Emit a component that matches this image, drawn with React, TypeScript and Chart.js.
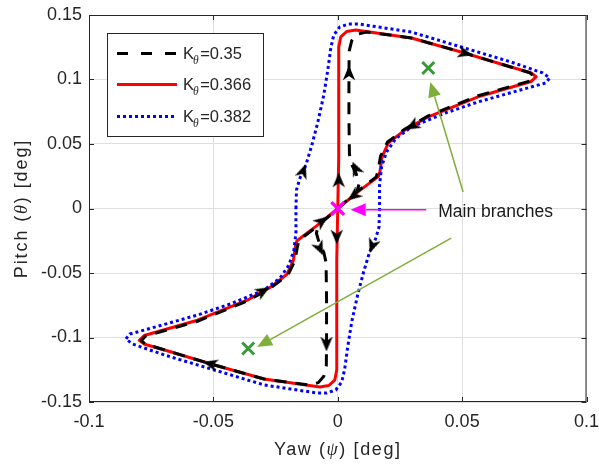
import React, { useEffect, useRef } from 'react';
import { Chart, registerables } from 'chart.js';

Chart.register(...registerables);

// ---------- tick labels ----------
const X_TICK_VALUES = [-0.1, -0.05, 0, 0.05, 0.1];
const X_TICK_LABELS = ['-0.1', '-0.05', '0', '0.05', '0.1'];
const Y_TICK_VALUES = [-0.15, -0.1, -0.05, 0, 0.05, 0.1, 0.15];
const Y_TICK_LABELS = ['-0.15', '-0.1', '-0.05', '0', '0.05', '0.1', '0.15'];

// ---------- series labels (K_theta values) ----------
const SERIES_K = ['0.35', '0.366', '0.382'];

// ---------- K_theta = 0.35 (black dashed) ----------
const K035_X = [
  0, 0.0076, 0.0086, 0.0074, 0.0056, 0.0047, 0.0045, 0.0045, 0.0046, 0.0056, 0.0078, 0.0115,
  0.0296, 0.0496, 0.0696, 0.0772, 0.079, 0.0772, 0.0564, 0.0364, 0.027, 0.02, 0.0172, 0.0162, 0.0155, 0.0076,
  0, -0.0076, -0.0086, -0.0074, -0.0056, -0.0047, -0.0045, -0.0045, -0.0046, -0.0056, -0.0078, -0.0115,
  -0.0296, -0.0496, -0.0696, -0.0772, -0.079, -0.0772, -0.0564, -0.0364, -0.027, -0.02, -0.0172, -0.0162, -0.0155, -0.0076, 0,
];
const K035_Y = [
  0, 0.0128, 0.019, 0.027, 0.034, 0.042, 0.07, 0.105, 0.122, 0.13, 0.135, 0.1368,
  0.1322, 0.1213, 0.1097, 0.1052, 0.1024, 0.0988, 0.0874, 0.0718, 0.0616, 0.0515, 0.0405, 0.0295, 0.0245, 0.0128,
  0, -0.0128, -0.019, -0.027, -0.034, -0.042, -0.07, -0.105, -0.122, -0.13, -0.135, -0.1368,
  -0.1322, -0.1213, -0.1097, -0.1052, -0.1024, -0.0988, -0.0874, -0.0718, -0.0616, -0.0515, -0.0405, -0.0295, -0.0245, -0.0128, 0,
];

// ---------- K_theta = 0.366 (red solid) ----------
const K0366_X = [
  0, 0.0004, 0.0004, 0.0004, 0.0012, 0.0036, 0.0072, 0.0296, 0.0496, 0.0696, 0.0776, 0.0798, 0.0778,
  0.0564, 0.0364, 0.0272, 0.0204, 0.0178, 0.017, 0.0164, 0.0085,
  0, -0.0004, -0.0004, -0.0004, -0.0012, -0.0036, -0.0072, -0.0296, -0.0496, -0.0696, -0.0776, -0.0798, -0.0778,
  -0.0564, -0.0364, -0.0272, -0.0204, -0.0178, -0.017, -0.0164, -0.0085, 0,
];
const K0366_Y = [
  0, 0.04, 0.084, 0.125, 0.133, 0.1372, 0.1384, 0.1322, 0.1213, 0.1097, 0.1052, 0.1022, 0.0985,
  0.0866, 0.0711, 0.0611, 0.051, 0.04, 0.029, 0.025, 0.0135,
  0, -0.04, -0.084, -0.125, -0.133, -0.1372, -0.1384, -0.1322, -0.1213, -0.1097, -0.1052, -0.1022, -0.0985,
  -0.0866, -0.0711, -0.0611, -0.051, -0.04, -0.029, -0.025, -0.0135, 0,
];

// ---------- K_theta = 0.382 (blue dotted) ----------
const K0382_X = [
  -0.0168, -0.0166, -0.0152, -0.0128, -0.0104, -0.008, -0.0056, -0.004, -0.0028, -0.0016, 0.0008, 0.0044, 0.0084,
  0.0296, 0.0496, 0.0696, 0.0824, 0.0852, 0.0836, 0.0792, 0.0564, 0.0432, 0.0296, 0.0232, 0.0196, 0.0176, 0.0168,
  0.0168, 0.0166, 0.0152, 0.0128, 0.0104, 0.008, 0.0056, 0.004, 0.0028, 0.0016, -0.0008, -0.0044, -0.0084,
  -0.0296, -0.0496, -0.0696, -0.0824, -0.0852, -0.0836, -0.0792, -0.0564, -0.0432, -0.0296, -0.0232, -0.0196, -0.0176, -0.0168, -0.0168,
];
const K0382_Y = [
  0, 0.0143, 0.0236, 0.0337, 0.0492, 0.067, 0.088, 0.1074, 0.1244, 0.1345, 0.1407, 0.143, 0.143,
  0.1368, 0.1252, 0.1136, 0.1051, 0.1012, 0.0973, 0.095, 0.0826, 0.074, 0.0632, 0.0539, 0.0438, 0.0322, 0.0182,
  0, -0.0143, -0.0236, -0.0337, -0.0492, -0.067, -0.088, -0.1074, -0.1244, -0.1345, -0.1407, -0.143, -0.143,
  -0.1368, -0.1252, -0.1136, -0.1051, -0.1012, -0.0973, -0.095, -0.0826, -0.074, -0.0632, -0.0539, -0.0438, -0.0322, -0.0182, 0,
];

// ---------- flow-direction arrowheads ----------
const ARROW_X = [0.0512, 0.03, 0.0045, 0.0072, 0.0004, 0.0064, -0.0004, -0.0064, -0.0072, -0.0045, -0.0512, -0.03, -0.0139, 0.0139];
const ARROW_Y = [0.1204, 0.064, 0.105, 0.031, 0.022, 0.0098, -0.022, -0.0098, -0.031, -0.105, -0.1204, -0.064, 0.029, -0.029];
const ARROW_ANGLE = [105, 240, 0, 335, 0, 232, 180, 52, 155, 180, 285, 60, 20, 200];

// ---------- equilibrium & branch centres ----------
const EQ_X = [0];
const EQ_Y = [0];
const CENTER_X = [0.0364, -0.036];
const CENTER_Y = [0.1089, -0.1085];

// ---------- annotation ----------
const NOTE_TEXT = 'Main branches';
const NOTE_X = 0.0404;
const NOTE_Y = -0.0066;
const NOTE_ARROW_X0 = [0.0504, 0.0456, 0.0356];
const NOTE_ARROW_Y0 = [0.0128, -0.0229, -0.001];
const NOTE_ARROW_X1 = [0.0372, -0.0324, 0.0052];
const NOTE_ARROW_Y1 = [0.098, -0.1074, -0.001];
const NOTE_ARROW_COLOR = ['#7fae3a', '#7fae3a', '#ff00ff'];

const SANS = '"Liberation Sans", Arial, Helvetica, sans-serif';
const SERIF = '"Liberation Serif", "DejaVu Serif", serif';
const AX = '#262626';

const pts = (xs: number[], ys: number[]) => xs.map((x, i) => ({ x, y: ys[i] }));

function makeArrowImage(): HTMLCanvasElement {
  const c = document.createElement('canvas');
  c.width = 16;
  c.height = 16;
  const g = c.getContext('2d')!;
  g.fillStyle = '#000';
  g.beginPath();
  g.moveTo(8, 0.5);
  g.lineTo(14.2, 15.3);
  g.lineTo(8, 11);
  g.lineTo(1.8, 15.3);
  g.closePath();
  g.fill();
  return c;
}

function drawHead(ctx: CanvasRenderingContext2D, x0: number, y0: number, x1: number, y1: number, color: string) {
  const ang = Math.atan2(y1 - y0, x1 - x0);
  const len = 15;
  const hw = 6.5;
  const bx = x1 - len * Math.cos(ang);
  const by = y1 - len * Math.sin(ang);
  ctx.save();
  ctx.strokeStyle = color;
  ctx.fillStyle = color;
  ctx.lineWidth = 1.5;
  ctx.beginPath();
  ctx.moveTo(x0, y0);
  ctx.lineTo(bx, by);
  ctx.stroke();
  ctx.beginPath();
  ctx.moveTo(x1, y1);
  ctx.lineTo(bx + hw * Math.sin(ang), by - hw * Math.cos(ang));
  ctx.lineTo(bx - hw * Math.sin(ang), by + hw * Math.cos(ang));
  ctx.closePath();
  ctx.fill();
  ctx.restore();
}

type Part = { text: string; font: string; dy?: number };

function drawRich(ctx: CanvasRenderingContext2D, parts: Part[], x: number, y: number, spacing: number, align: 'center' | 'left') {
  ctx.save();
  (ctx as any).letterSpacing = spacing + 'px';
  ctx.textAlign = 'left';
  ctx.textBaseline = 'alphabetic';
  const widths = parts.map((p) => {
    ctx.font = p.font;
    return ctx.measureText(p.text).width;
  });
  const total = widths.reduce((a, b) => a + b, 0);
  let cx = align === 'center' ? x - total / 2 : x;
  parts.forEach((p, i) => {
    ctx.font = p.font;
    ctx.fillText(p.text, cx, y + (p.dy || 0));
    cx += widths[i];
  });
  ctx.restore();
}

const overlayPlugin = {
  id: 'overlay',
  afterDatasetsDraw(chart: any) {
    const ctx: CanvasRenderingContext2D = chart.ctx;
    const xs = chart.scales.x;
    const ys = chart.scales.y;
    NOTE_ARROW_X0.forEach((_, i) => {
      drawHead(
        ctx,
        xs.getPixelForValue(NOTE_ARROW_X0[i]),
        ys.getPixelForValue(NOTE_ARROW_Y0[i]),
        xs.getPixelForValue(NOTE_ARROW_X1[i]),
        ys.getPixelForValue(NOTE_ARROW_Y1[i]),
        NOTE_ARROW_COLOR[i]
      );
    });
    ctx.save();
    ctx.font = `17.5px ${SANS}`;
    ctx.fillStyle = '#1a1a1a';
    ctx.textAlign = 'left';
    ctx.textBaseline = 'alphabetic';
    ctx.fillText(NOTE_TEXT, xs.getPixelForValue(NOTE_X), ys.getPixelForValue(NOTE_Y));
    ctx.restore();
  },
  afterDraw(chart: any) {
    const ctx: CanvasRenderingContext2D = chart.ctx;
    const { left, right, top, bottom } = chart.chartArea;
    const xs = chart.scales.x;
    const ys = chart.scales.y;
    ctx.save();
    // axes box
    ctx.strokeStyle = AX;
    ctx.lineWidth = 1;
    ctx.strokeRect(left + 0.5, top + 0.5, right - left - 1, bottom - top - 1);
    // inward ticks
    ctx.beginPath();
    X_TICK_VALUES.forEach((v) => {
      const px = Math.round(xs.getPixelForValue(v)) + 0.5;
      ctx.moveTo(px, bottom);
      ctx.lineTo(px, bottom - 5);
      ctx.moveTo(px, top);
      ctx.lineTo(px, top + 5);
    });
    Y_TICK_VALUES.forEach((v) => {
      const py = Math.round(ys.getPixelForValue(v)) + 0.5;
      ctx.moveTo(left, py);
      ctx.lineTo(left + 5, py);
      ctx.moveTo(right, py);
      ctx.lineTo(right - 5, py);
    });
    ctx.stroke();

    // legend
    const lx = left + 18.5;
    const ly = top + 18.5;
    const lw = 156;
    const lh = 103;
    ctx.fillStyle = '#ffffff';
    ctx.fillRect(lx, ly, lw, lh);
    ctx.strokeStyle = AX;
    ctx.lineWidth = 1;
    ctx.strokeRect(lx, ly, lw, lh);
    const rowsY = [top + 38.5, top + 69.5, top + 101.5];
    const colors = ['#000000', '#ff0000', '#0000ff'];
    const dashes = [[11, 13], [], [3, 3]];
    SERIES_K.forEach((k, i) => {
      ctx.save();
      ctx.strokeStyle = colors[i];
      ctx.lineWidth = 3;
      ctx.lineCap = 'butt';
      ctx.setLineDash(dashes[i]);
      ctx.beginPath();
      ctx.moveTo(left + 28, rowsY[i]);
      ctx.lineTo(left + 88, rowsY[i]);
      ctx.stroke();
      ctx.restore();
      ctx.fillStyle = AX;
      const bx = left + 94;
      const by = rowsY[i] + 5;
      ctx.font = `16.5px ${SANS}`;
      ctx.textAlign = 'left';
      ctx.textBaseline = 'alphabetic';
      ctx.fillText('K', bx, by);
      const kw = ctx.measureText('K').width;
      ctx.font = `italic 11.5px ${SERIF}`;
      ctx.fillText('\u03B8', bx + kw - 1, by + 5);
      const tw = ctx.measureText('\u03B8').width;
      ctx.font = `16.5px ${SANS}`;
      ctx.fillText('=' + k, bx + kw - 1 + tw + 1.5, by);
    });

    // axis titles
    ctx.fillStyle = AX;
    drawRich(
      ctx,
      [
        { text: 'Yaw (', font: `18px ${SANS}` },
        { text: '\u03C8', font: `italic 18px ${SERIF}` },
        { text: ') [deg]', font: `18px ${SANS}` },
      ],
      (left + right) / 2,
      bottom + 53,
      1.6,
      'center'
    );
    ctx.save();
    ctx.translate(26.5, (top + bottom) / 2);
    ctx.rotate(-Math.PI / 2);
    drawRich(
      ctx,
      [
        { text: 'Pitch (', font: `18px ${SANS}` },
        { text: '\u03B8', font: `italic 18px ${SERIF}` },
        { text: ') [deg]', font: `18px ${SANS}` },
      ],
      0,
      0,
      1.9,
      'center'
    );
    ctx.restore();
    ctx.restore();
  },
};

export default function App() {
  const ref = useRef<HTMLCanvasElement | null>(null);

  useEffect(() => {
    document.body.style.margin = '0';
    document.body.style.overflow = 'hidden';
    const canvas = ref.current;
    if (!canvas) return;
    const arrowImg = makeArrowImage();

    const lineDs = (label: string, xs: number[], ys: number[], color: string, dash: number[], order: number) => ({
      label,
      data: pts(xs, ys),
      showLine: true,
      borderColor: color,
      backgroundColor: color,
      borderWidth: 3,
      borderDash: dash,
      borderCapStyle: 'butt',
      borderJoinStyle: 'round',
      pointRadius: 0,
      pointHoverRadius: 0,
      tension: 0,
      order,
    });

    const chart = new Chart(canvas, {
      type: 'scatter',
      data: {
        datasets: [
          {
            label: 'equilibrium',
            data: pts(EQ_X, EQ_Y),
            pointStyle: 'crossRot',
            pointRadius: 9,
            pointBorderWidth: 3.5,
            borderColor: '#ff00ff',
            backgroundColor: '#ff00ff',
            order: 0,
          },
          {
            label: 'centres',
            data: pts(CENTER_X, CENTER_Y),
            pointStyle: 'crossRot',
            pointRadius: 8.5,
            pointBorderWidth: 3,
            borderColor: '#3a9a3a',
            backgroundColor: '#3a9a3a',
            order: 0,
          },
          {
            label: 'arrows',
            data: pts(ARROW_X, ARROW_Y),
            pointStyle: arrowImg,
            pointRotation: ARROW_ANGLE,
            pointRadius: 8,
            order: 1,
          },
          lineDs('K=' + SERIES_K[2], K0382_X, K0382_Y, '#0000ff', [3, 3], 2),
          lineDs('K=' + SERIES_K[0], K035_X, K035_Y, '#000000', [12, 9], 3),
          lineDs('K=' + SERIES_K[1], K0366_X, K0366_Y, '#ff0000', [], 4),
        ] as any,
      },
      options: {
        animation: false,
        responsive: false,
        devicePixelRatio: 1,
        events: [],
        layout: { padding: { left: 0, top: 15, right: 10, bottom: 0 } },
        plugins: { legend: { display: false }, tooltip: { enabled: false } },
        scales: {
          x: {
            type: 'linear',
            min: -0.1,
            max: 0.1,
            afterBuildTicks: (scale: any) => {
              scale.ticks = X_TICK_VALUES.map((v) => ({ value: v }));
            },
            afterFit: (scale: any) => {
              scale.height = 63;
              scale.paddingLeft = 0;
              scale.paddingRight = 0;
            },
            grid: { color: '#dfdfdf', drawTicks: false, lineWidth: 1 },
            border: { display: false },
            ticks: {
              padding: 9,
              color: AX,
              font: { family: SANS, size: 18 },
              maxRotation: 0,
              autoSkip: false,
              callback: (_v: any, i: number) => X_TICK_LABELS[i],
            },
          },
          y: {
            type: 'linear',
            min: -0.15,
            max: 0.15,
            afterBuildTicks: (scale: any) => {
              scale.ticks = Y_TICK_VALUES.map((v) => ({ value: v }));
            },
            afterFit: (scale: any) => {
              scale.width = 89;
              scale.paddingTop = 0;
              scale.paddingBottom = 0;
            },
            grid: { color: '#dfdfdf', drawTicks: false, lineWidth: 1 },
            border: { display: false },
            ticks: {
              padding: 7,
              color: AX,
              font: { family: SANS, size: 18 },
              autoSkip: false,
              callback: (_v: any, i: number) => Y_TICK_LABELS[i],
            },
          },
        },
      } as any,
      plugins: [overlayPlugin],
    });
    return () => chart.destroy();
  }, []);

  return (
    <div style={{ width: 599, height: 465, background: '#ffffff' }}>
      <canvas ref={ref} width={599} height={465} style={{ display: 'block', width: 599, height: 465 }} />
    </div>
  );
}
